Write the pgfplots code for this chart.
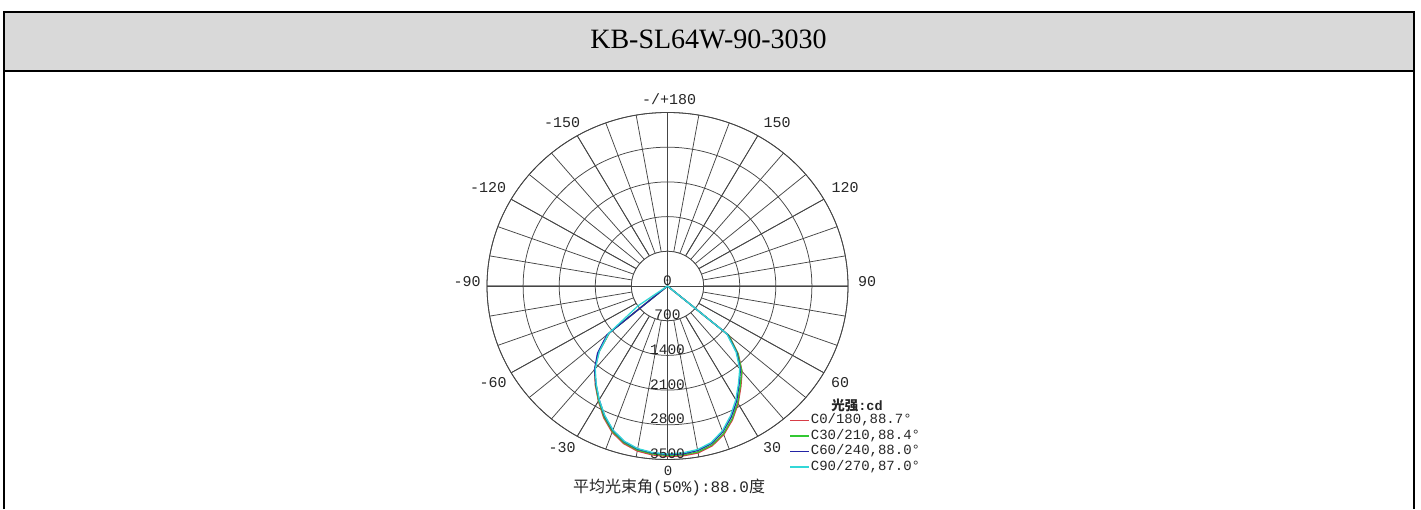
\documentclass[border=0pt]{standalone}
\usepackage{fontspec}
\usepackage{pgfplots}
\usepackage{pgfplotstable}
\pgfplotsset{compat=1.18}
\usepgfplotslibrary{polar}
\setmainfont{Liberation Serif}
\newfontfamily\mono{Liberation Mono}
\newfontfamily\cjk{Noto Sans CJK SC}

\definecolor{hdr}{HTML}{D9D9D9}
\definecolor{gridc}{HTML}{454545}
\definecolor{txt}{HTML}{262626}
\definecolor{cred}{RGB}{215,60,70}
\definecolor{cgreen}{RGB}{50,200,50}
\definecolor{cblue}{RGB}{35,35,165}
\definecolor{ccyan}{RGB}{50,215,215}

% gamma angle (0 = down, +90 = right), intensity in cd
\pgfplotstableread{
g I
-60 0
-55 0
-50 1470
-45 1880
-40 2200
-35 2440
-30 2680
-25 2930
-20 3140
-15 3290
-10 3380
-5 3420
0 3440
5 3440
10 3420
15 3340
20 3190
25 2980
30 2740
35 2480
40 2250
45 1940
50 1560
55 0
60 0
}\czero
\pgfplotstableread{
g I
-60 0
-55 0
-50 1480
-45 1890
-40 2190
-35 2430
-30 2670
-25 2910
-20 3120
-15 3270
-10 3360
-5 3400
0 3420
5 3420
10 3400
15 3320
20 3170
25 2960
30 2720
35 2460
40 2240
45 1930
50 1550
55 0
60 0
}\cthirty
\pgfplotstableread{
g I
-60 0
-55 0
-50 1530
-45 1920
-40 2200
-35 2420
-30 2650
-25 2890
-20 3100
-15 3250
-10 3340
-5 3380
0 3400
5 3400
10 3370
15 3290
20 3130
25 2920
30 2680
35 2420
40 2200
45 1900
50 1520
55 0
60 0
}\csixty
\pgfplotstableread{
g I
-60 0
-55 700
-50 1490
-45 1870
-40 2180
-35 2410
-30 2650
-25 2880
-20 3090
-15 3240
-10 3330
-5 3370
0 3390
5 3380
10 3350
15 3270
20 3110
25 2890
30 2650
35 2400
40 2180
45 1880
50 1500
55 0
60 0
}\cninety

\begin{document}
\begin{tikzpicture}[x=1pt,y=1pt]
\useasboundingbox (0,0) rectangle (1421,509);
% frame
\fill[hdr] (4.3,497.2) rectangle (1414,438);
\draw[line width=2.2pt] (4.3,0) -- (4.3,497.2) -- (1414,497.2) -- (1414,0);
\draw[line width=2.4pt] (4.3,438) -- (1414,438);
\node[anchor=base, inner sep=0, font=\fontsize{28}{30}\selectfont] at (708.5,460) {KB-SL64W-90-3030};

\begin{polaraxis}[
    at={(667.5pt,223pt)}, anchor=center,
    scale only axis, width=361pt, height=347pt,
    ymin=0, ymax=3500,
    xtick={0,30,...,330}, minor xtick={0,10,...,350},
    ytick={700,1400,...,3500},
    xticklabels={}, yticklabels={},
    major tick length=0pt, minor tick length=0pt,
    grid=both,
    major grid style={draw=gridc, line width=0.75pt},
    minor grid style={draw=gridc, line width=0.75pt},
    axis line style={draw=gridc, line width=0.8pt},
    legend style={at={(0.829,0.141)}, anchor=north west, draw=none, fill=none,
        font=\mono\fontsize{14}{15.5}\selectfont,
        nodes={inner sep=1pt, text height=10pt, text depth=3.5pt},
        row sep=0pt},
    legend cell align=left,
    legend image code/.code={\draw[#1, line width=1.4pt] (0pt,0pt) -- (19pt,0pt);},
]
\fill[white] (axis cs:0,0) ellipse[x radius=36.1pt, y radius=34.7pt];
\draw[gridc, line width=0.75pt] (axis cs:0,0) ellipse[x radius=36.1pt, y radius=34.7pt];
\draw[gridc, line width=0.75pt] (axis cs:0,3500) -- (axis cs:180,3500);
\draw[gridc, line width=0.75pt] (axis cs:90,3500) -- (axis cs:270,3500);
\addplot[cred, line width=1.3pt] table[x expr=\thisrow{g}+270, y=I] {\czero};
\addlegendentry{\textcolor{txt}{C0/180,88.7°}}
\addplot[cgreen, line width=1.3pt] table[x expr=\thisrow{g}+270, y=I] {\cthirty};
\addlegendentry{\textcolor{txt}{C30/210,88.4°}}
\addplot[cblue, line width=1.3pt] table[x expr=\thisrow{g}+270, y=I] {\csixty};
\addlegendentry{\textcolor{txt}{C60/240,88.0°}}
\addplot[ccyan, line width=1.3pt] table[x expr=\thisrow{g}+270, y=I] {\cninety};
\addlegendentry{\textcolor{txt}{C90/270,87.0°}}
% radial labels
\pgfplotsinvokeforeach{0,700,1400,2100,2800,3500}{
  \node[anchor=south, inner sep=0.5pt, text=txt, font=\mono\fontsize{14.5}{16}\selectfont] at (axis cs:270,#1) {#1};
}
\end{polaraxis}

% angle labels
\begin{scope}[every node/.style={text=txt, inner sep=0pt, font=\mono\fontsize{15}{16}\selectfont}]
\node at (669,410) {-/+180};
\node at (777,386) {150};
\node at (562,386) {-150};
\node at (845,321) {120};
\node at (488,321) {-120};
\node at (867,227) {90};
\node at (467,227) {-90};
\node at (840,126) {60};
\node at (493,126) {-60};
\node at (772,61) {30};
\node at (562,61) {-30};
\node[font=\mono\fontsize{14}{15}\selectfont] at (668,38.5) {0};
\end{scope}
\node[text=txt, font=\fontsize{13.5}{15}\selectfont] at (857,104) {{\cjk\bfseries 光强}{\mono\bfseries :cd}};
\node[text=txt, inner sep=0pt] at (669,22) {{\cjk\fontsize{16}{18}\selectfont 平均光束角}{\mono\fontsize{16}{18}\selectfont (50\%):88.0}{\cjk\fontsize{16}{18}\selectfont 度}};
\end{tikzpicture}
\end{document}
